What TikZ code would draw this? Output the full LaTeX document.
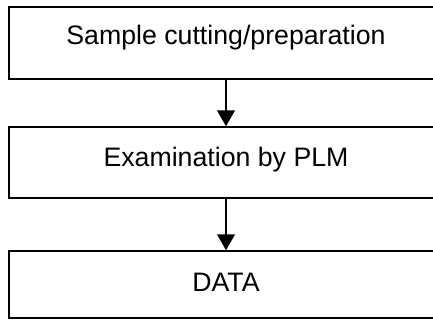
\documentclass[tikz,border=0pt]{standalone}
\usepackage{fontspec}
\setmainfont{Liberation Sans}
\usetikzlibrary{arrows.meta}
\begin{document}
\begin{tikzpicture}
\tikzstyle{stage}=[rectangle,draw=black,line width=1pt,minimum width=10.85cm,inner sep=0pt,text height=0.46cm,font=\fontsize{19}{22}\selectfont]
\tikzstyle{flow}=[line width=1.8pt,-{Triangle[width=0.44cm,length=0.4cm]}]
\useasboundingbox (0,0) rectangle (10.825,8);
%stage boxes
\node[stage, minimum height=1.8cm, text depth=0.4cm]    (cutting) at (5.65,6.925)  {Sample cutting/preparation};
\node[stage, minimum height=1.775cm, text depth=0.275cm] (plm)     at (5.65,3.9375) {Examination by PLM};
\node[stage, minimum height=1.675cm, text depth=0.125cm] (data)    at (5.65,0.8875) {DATA};

% connections
\draw[flow] (cutting) -- (plm);
\draw[flow] (plm) -- (data);

\end{tikzpicture}
\end{document}
